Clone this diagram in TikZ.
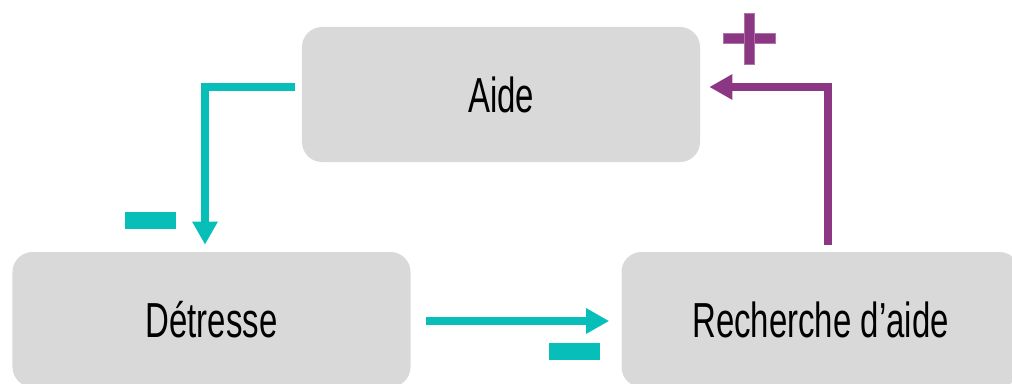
\documentclass[tikz,border=0pt]{standalone}
\usepackage{fontspec}
\newfontfamily\narrowfont[FakeStretch=0.67]{Liberation Sans}
\usetikzlibrary{arrows.meta, positioning}
\definecolor{tealc}{HTML}{07BFB8}
\definecolor{purplec}{HTML}{8C3783}
\definecolor{boxgrey}{HTML}{D9D9D9}

\begin{document}
\begin{tikzpicture}[
    x = 0.25mm, y = -0.25mm,
    box/.style = {
      fill = boxgrey,
      rounded corners = 5mm,
      minimum width = 99.5mm,
      minimum height = 33.75mm,
      font = \narrowfont\fontsize{35}{40}\selectfont,
    },
    tealarrow/.style = {
      draw = tealc, line width = 2mm,
      -{Triangle[length = 5.75mm, width = 6mm]},
    },
    purplearrow/.style = {
      draw = purplec, line width = 2mm,
      -{Triangle[length = 5.75mm, width = 6mm]},
    },
    minus/.style = {
      fill = tealc, inner sep = 0pt,
      minimum width = 12.75mm, minimum height = 4.25mm,
    },
    plusbar/.style = {
      fill = purplec, draw = purplec!70!white, line width = 0.4pt,
      inner sep = 0pt,
    },
  ]
  \useasboundingbox (0,0) rectangle (1012,384);

  \node [box] (aide)      at (501, 94.5)  {Aide};
  \node [box] (detresse)  at (211.5, 319.5) {Détresse};
  \node [box] (recherche) at (820.5, 319.5) {Recherche d’aide};

  % feedback loop
  \draw [tealarrow] ([shift = {(-7,-7.5)}]aide.west)
    -| ([shift = {(-6.5,-7)}]detresse.north);
  \draw [tealarrow] ([shift = {(15,1.5)}]detresse.east)
    -- ([shift = {(-12,1.5)}]recherche.west);
  \draw [purplearrow] ([shift = {(7.5,-7)}]recherche.north)
    |- ([shift = {(9,-7.5)}]aide.east);

  % signs
  \node [minus] (minusA) at (150.5, 220.5) {};
  \node [minus] (minusB) at (574.5, 351.5) {};
  \node [plusbar, minimum width = 13mm, minimum height = 2.6mm]
    (plusH) at (749, 38.5) {};
  \node [plusbar, minimum width = 2.4mm, minimum height = 12.75mm]
    (plusV) at (749, 38.5) {};
\end{tikzpicture}
\end{document}
